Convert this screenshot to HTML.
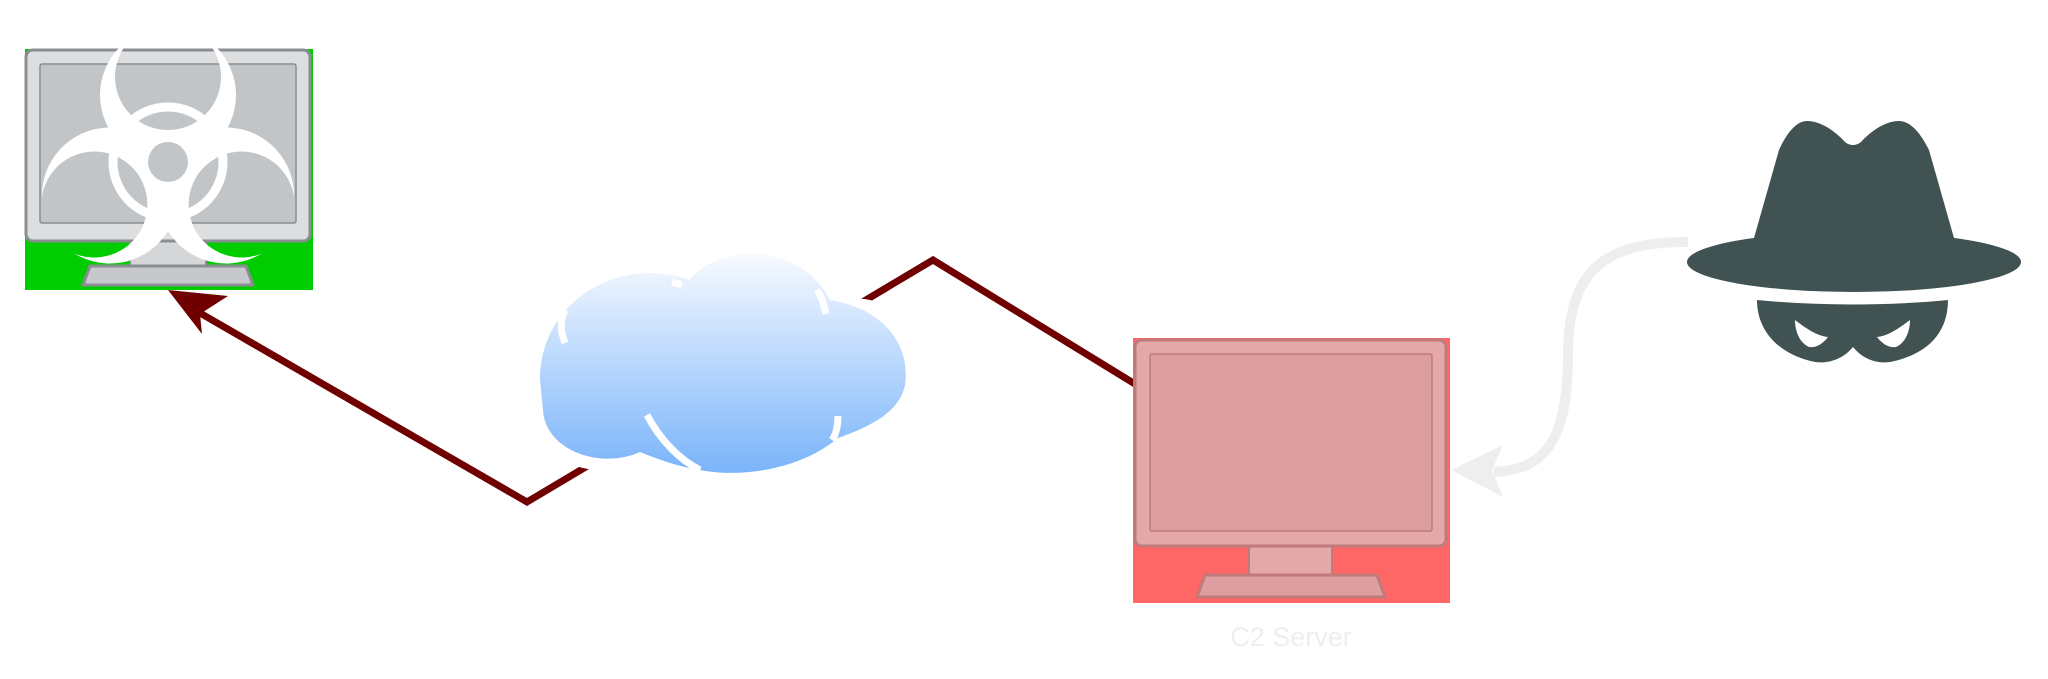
<!DOCTYPE html>
<html><head><meta charset="utf-8"><style>
html,body{margin:0;padding:0;background:#fff;width:2048px;height:679px;overflow:hidden}
svg{display:block}
</style></head><body>
<svg width="2048" height="679" viewBox="0 0 2048 679" xmlns="http://www.w3.org/2000/svg">
<defs>
<linearGradient id="cg" x1="0" y1="0" x2="0" y2="1">
<stop offset="0" stop-color="#f7faff"/><stop offset="1" stop-color="#7ab4fa"/>
</linearGradient>
<mask id="topLobe">
<rect x="0" y="0" width="400" height="400" fill="#fff"/>
<circle cx="168" cy="77" r="53" fill="#000"/>
</mask>
</defs>

<!-- left infected monitor -->
<rect x="25" y="49" width="288" height="241" fill="#00cc00"/>
<rect x="130" y="235" width="76" height="38" fill="#d4d6d8" stroke="#8a8d91" stroke-width="2"/>
<path d="M90,266 L246,266 L253,285 L83,285 Z" fill="#c6c8cb" stroke="#8a8d91" stroke-width="3" stroke-linejoin="round"/>
<rect x="26" y="50" width="284" height="191" rx="7" fill="#dcdee0" stroke="#8a8d91" stroke-width="3"/>
<rect x="40" y="64" width="256" height="159" rx="2" fill="#c2c5c8" stroke="#8a8d91" stroke-width="1.5"/>
<g fill="#fff">
 <g mask="url(#topLobe)"><circle cx="168" cy="95" r="68"/></g>
 <g mask="url(#topLobe)" transform="rotate(120 168 162)"><circle cx="168" cy="95" r="68"/></g>
 <g mask="url(#topLobe)" transform="rotate(240 168 162)"><circle cx="168" cy="95" r="68"/></g>
</g>
<circle cx="168" cy="162" r="55" fill="none" stroke="#fff" stroke-width="9"/>
<circle cx="168" cy="162" r="20" fill="#c2c5c8"/>

<!-- dark red connector -->
<polyline points="1135,384 933,260 527,502 200,313" fill="none" stroke="#700000" stroke-width="7"/>
<polygon points="168,290 228,296 200,314 202,334" fill="#700000"/>

<!-- cloud with white halo -->
<g fill="#fff" stroke="#fff" stroke-width="24">
<ellipse cx="735" cy="322" rx="100" ry="70"/>
<ellipse cx="635" cy="332" rx="68" ry="58"/>
<ellipse cx="600" cy="400" rx="60" ry="58"/>
<ellipse cx="640" cy="420" rx="82" ry="45"/>
<ellipse cx="750" cy="405" rx="92" ry="67"/>
<ellipse cx="850" cy="372" rx="75" ry="62"/>
</g>
<g fill="url(#cg)">
<path d="M540,380 C540,300 620,255 690,280 C715,245 800,240 830,300 C890,310 910,350 905,385 C900,410 875,425 838,438 C800,470 740,478 700,470 C675,466 655,458 640,452 C600,470 545,450 543,410 Z"/>
</g>
<g fill="none" stroke="#fff" stroke-width="7">
<path d="M565,343 C560,330 560,320 565,310"/>
<path d="M672,282 L682,285"/>
<path d="M826,314 C823,300 820,295 817,290"/>
<path d="M647,415 C660,440 680,460 700,470"/>
<path d="M838,416 C838,425 836,435 832,440"/>
</g>

<!-- red C2 monitor -->
<rect x="1133" y="338" width="317" height="265" fill="#ff6666"/>
<rect x="1249" y="545" width="83" height="38" fill="#e5a8a8" stroke="#c07a7a" stroke-width="2"/>
<path d="M1205,575 L1377,575 L1385,597 L1197,597 Z" fill="#dc9ea0" stroke="#c07a7a" stroke-width="3" stroke-linejoin="round"/>
<rect x="1135" y="340" width="311" height="206" rx="7" fill="#e5a8a8" stroke="#c07a7a" stroke-width="3"/>
<rect x="1150" y="354" width="282" height="177" rx="2" fill="#db9d9f" stroke="#c07a7a" stroke-width="1.5"/>
<text x="1291" y="646" font-family="Liberation Sans, sans-serif" font-size="27" fill="#eeeeee" text-anchor="middle">C2 Server</text>

<!-- gray curved connector -->
<path d="M1688,242 C1610,242 1568,265 1568,355 C1568,440 1545,470 1494,472" fill="none" stroke="#eeeeee" stroke-width="10"/>
<polygon points="1451,470 1503,445 1492,470 1503,497" fill="#eeeeee"/>

<!-- hacker -->
<g fill="#415252">
<path d="M1754,238 L1779,150 C1787,132 1797,121 1807,121 C1822,121 1837,133 1845,142 C1850,146 1856,146 1861,142 C1869,133 1884,121 1899,121 C1910,121 1920,132 1929,150 L1954,238 Z"/>
<ellipse cx="1854" cy="262" rx="167" ry="30"/>
<path d="M1757,300 C1820,306 1886,306 1948,300 C1948,335 1925,355 1890,362 C1875,364 1862,358 1853,347 C1844,358 1830,364 1815,362 C1780,355 1757,332 1757,300 Z"/>
</g>
<g fill="#fff">
<path d="M1795,320 C1808,330 1818,336 1828,337 C1822,345 1815,348 1809,347 C1800,343 1795,332 1795,320 Z"/>
<path d="M1910,320 C1897,330 1887,336 1877,337 C1883,345 1890,348 1896,347 C1905,343 1910,332 1910,320 Z"/>
</g>
</svg>
</body></html>
